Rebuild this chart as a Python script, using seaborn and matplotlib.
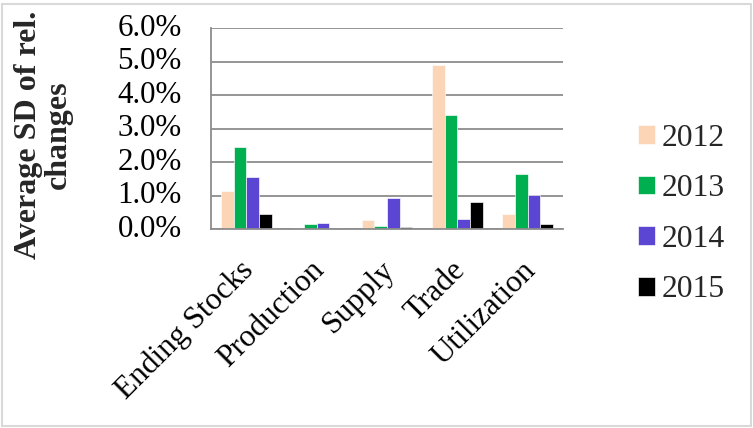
import matplotlib
matplotlib.use("Agg")
import matplotlib.pyplot as plt
import matplotlib.transforms as mtransforms
from matplotlib.patches import Rectangle
from matplotlib.ticker import FuncFormatter, MultipleLocator
import pandas as pd
import seaborn as sns

categories = ["Ending Stocks", "Production", "Supply", "Trade", "Utilization"]
years = ["2012", "2013", "2014", "2015"]
vals_2012 = [1.13, 0.03, 0.27, 4.90, 0.45]
vals_2013 = [2.45, 0.16, 0.09, 3.42, 1.64]
vals_2014 = [1.56, 0.20, 0.93, 0.30, 1.02]
vals_2015 = [0.45, 0.05, 0.07, 0.81, 0.16]
colors = ["#FBD5B5", "#00B050", "#5A46D2", "#000000"]

series = [vals_2012, vals_2013, vals_2014, vals_2015]
df = pd.DataFrame(
    [(c, y, v / 100.0) for y, vals in zip(years, series) for c, v in zip(categories, vals)],
    columns=["category", "year", "value"],
)

sns.set_theme(style="white")
plt.rcParams["font.family"] = ["Liberation Serif", "DejaVu Serif"]

fig = plt.figure(figsize=(7.53, 4.28), dpi=100)
ax = fig.add_axes([211 / 753, 1 - 229.3 / 428, (563 - 211) / 753, (229.3 - 28) / 428])

sns.barplot(
    data=df, x="category", y="value", hue="year", order=categories, hue_order=years,
    palette=colors, width=0.72, gap=0.0, edgecolor="white", linewidth=0.45,
    saturation=1.0, ax=ax, legend=True,
)

ax.set_ylim(0, 0.06)
ax.set_xlim(-0.5, len(categories) - 0.5)
ax.yaxis.set_major_locator(MultipleLocator(0.01))
ax.yaxis.set_major_formatter(FuncFormatter(lambda v, _: f"{v * 100:.1f}%"))
ax.grid(axis="y", color="#8C8C8C", linewidth=1.3)
ax.set_axisbelow(True)
for side in ("top", "right"):
    ax.spines[side].set_visible(False)
for side in ("left", "bottom"):
    ax.spines[side].set_color("#8C8C8C")
    ax.spines[side].set_linewidth(1.3)
ax.tick_params(axis="y", length=0, labelsize=22.3, colors="black", pad=21)
ax.tick_params(axis="x", length=0, labelsize=22.5, colors="black", pad=19)
shift = mtransforms.ScaledTranslation(-7 / 100, 0, fig.dpi_scale_trans)
for lab in ax.get_xticklabels():
    lab.set_rotation(45)
    lab.set_ha("right")
    lab.set_rotation_mode("anchor")
    lab.set_transform(lab.get_transform() + shift)
for lab in ax.get_yticklabels():
    lab.set_va("center")

ax.set_xlabel("")
ax.set_ylabel("")
fig.text(0.058, 0.685, "Average SD of rel.\nchanges", rotation=90,
         ha="center", va="center", fontsize=23, fontweight="bold",
         linespacing=1.05)

leg = ax.legend(
    loc="center left", frameon=False,
    fontsize=22.8, handlelength=0.54, handleheight=0.54, handletextpad=0.2,
    labelspacing=0.68, borderaxespad=0, borderpad=0,
    bbox_to_anchor=(638 / 753, 1 - 214 / 428), bbox_transform=fig.transFigure,
)

fig.patches.append(Rectangle((1.5 / 753, 2 / 428), 749 / 753, 422 / 428,
                             transform=fig.transFigure, fill=False,
                             edgecolor="#D9D9D9", linewidth=1.5))

fig.savefig("out.png", dpi=100)
